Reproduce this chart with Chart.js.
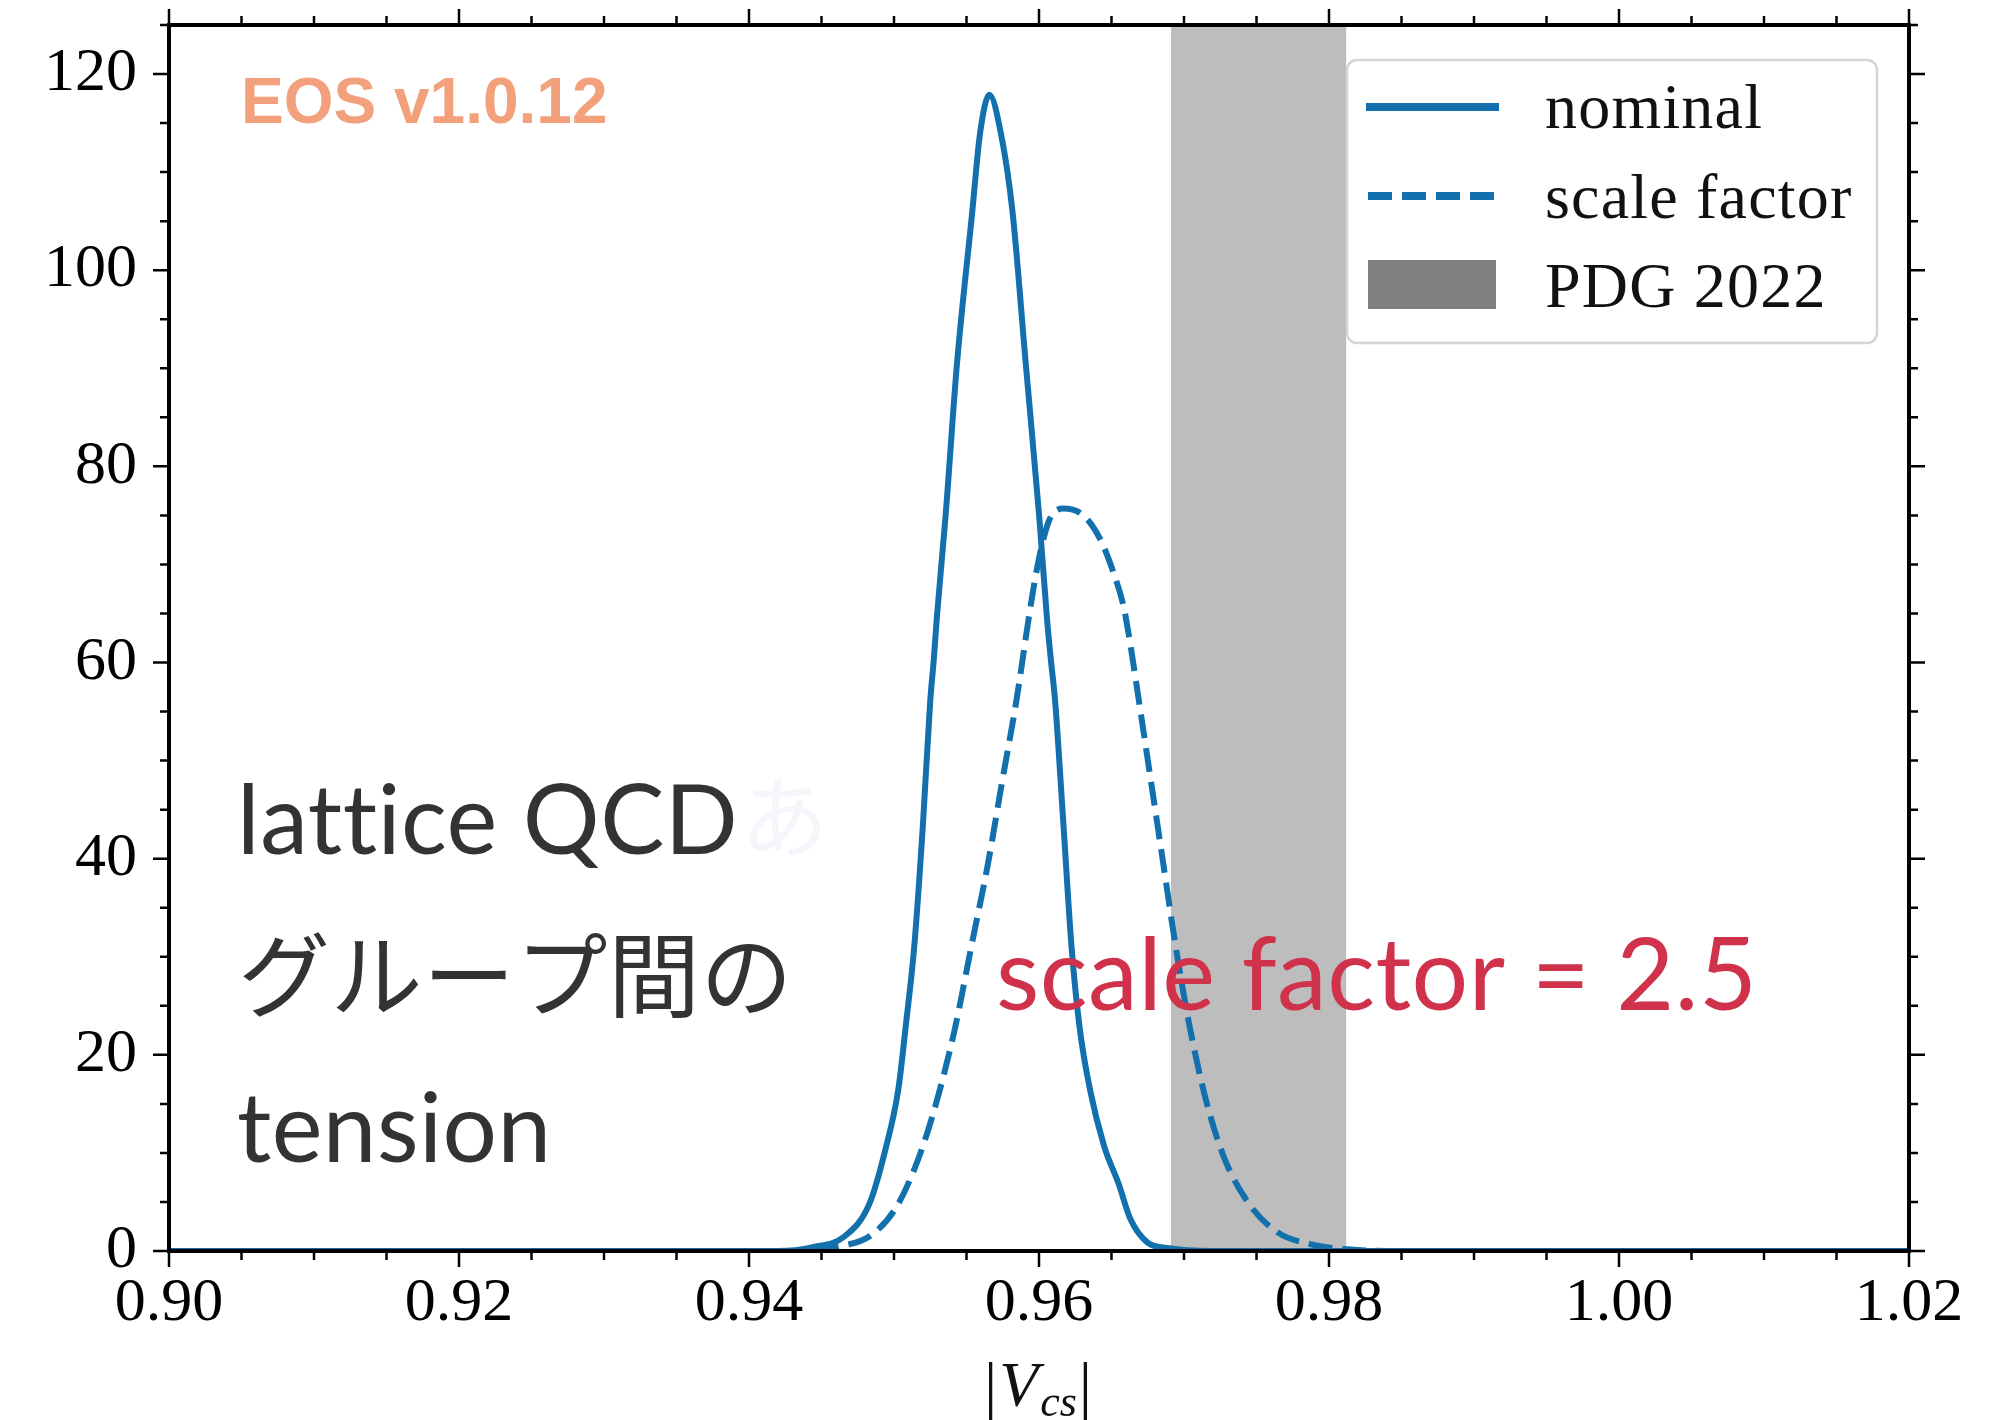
<!DOCTYPE html>
<html>
<head>
<meta charset="utf-8">
<script src="https://cdn.jsdelivr.net/npm/chart.js@4.4.1/dist/chart.umd.min.js"></script>
<style>
  html, body { margin: 0; padding: 0; background: #fff; }
  canvas { display: block; }
</style>
</head>
<body>
<canvas id="vcsChart" width="1992" height="1420"></canvas>
<script>
// |Vcs| posterior: nominal fit vs scale-factor fit, with PDG 2022 band
const xMin = 0.90, xMax = 1.02;
const yMin = 0, yMax = 125;

const xTickValues = [0.90, 0.92, 0.94, 0.96, 0.98, 1.00, 1.02];
const xTickLabels = ['0.90', '0.92', '0.94', '0.96', '0.98', '1.00', '1.02'];
const yTickValues = [0, 20, 40, 60, 80, 100, 120];
const yTickLabels = ['0', '20', '40', '60', '80', '100', '120'];

const nominalX = [0.9000, 0.9420, 0.9444, 0.9466, 0.9483, 0.9494, 0.9503, 0.9508, 0.9514, 0.9520,
                  0.9525, 0.95275, 0.95295, 0.95355, 0.95434, 0.95540, 0.95593, 0.95658, 0.95738, 0.95817,
                  0.95909, 0.96002, 0.96055, 0.96081, 0.96111, 0.96168, 0.96224, 0.96280, 0.96351, 0.96449,
                  0.96548, 0.96632, 0.96745, 0.96885, 0.9720, 1.0200];
const nominalY = [0, 0, 0.4, 1.5, 4.8, 10.3, 16.5, 22.8, 31.1, 43.6,
                  56.1, 60.4, 64.5, 74.8, 90.4, 106.0, 113.9, 117.9, 113.9, 106.0,
                  90.4, 74.8, 64.5, 60.4, 56.1, 43.6, 31.1, 22.8, 16.5, 10.7,
                  6.9, 3.2, 0.9, 0.3, 0, 0];

const scaleX = [0.9000, 0.9440, 0.94633, 0.94831, 0.95013, 0.95168, 0.95295, 0.95422, 0.95534, 0.95647,
                0.95745, 0.95844, 0.95929, 0.95973, 0.96019, 0.96076, 0.96168, 0.96306, 0.96421, 0.96513,
                0.96582, 0.96616, 0.96689, 0.96773, 0.96858, 0.96942, 0.97040, 0.97153, 0.97280, 0.97449,
                0.97646, 0.97870, 0.98096, 0.9850, 1.0200];
const scaleY = [0, 0, 0.5, 1.5, 4.4, 9.4, 15.3, 22.8, 31.1, 39.4,
                47.8, 56.1, 64.5, 68.5, 71.9, 74.7, 75.7, 75.0, 72.6, 69.2,
                65.8, 63.1, 56.1, 47.8, 39.4, 31.1, 22.8, 15.3, 9.4, 4.8,
                1.9, 0.7, 0.2, 0, 0];

const pdgRange = [0.9691, 0.9812];

const legendLabels = ['nominal', 'scale factor', 'PDG 2022'];
const noteLines = ['lattice QCD', 'グループ間の', 'tension'];
const noteScale = 'scale factor = 2.5';
const watermark = 'EOS v1.0.12';

const blue = '#1270ad';
const serif = '"Liberation Serif", "DejaVu Serif", serif';

function toPoints(xs, ys) {
    return xs.map((x, i) => ({ x: x, y: ys[i] }));
}

// outward ticks on all four sides + the box
const frameTicks = {
    id: 'frameTicks',
    afterDatasetsDraw(chart) {
        const { ctx, chartArea: a, scales: { x, y } } = chart;
        ctx.save();
        ctx.strokeStyle = '#000';
        ctx.lineWidth = 2.5;
        ctx.beginPath();
        for (let k = 0; k <= 24; k++) {
            const px = x.getPixelForValue(xMin + k * 0.005);
            const len = k % 4 === 0 ? 16 : 9;
            ctx.moveTo(px, a.bottom); ctx.lineTo(px, a.bottom + len);
            ctx.moveTo(px, a.top); ctx.lineTo(px, a.top - len);
        }
        for (let k = 0; k <= 25; k++) {
            const py = y.getPixelForValue(k * 5);
            const len = k % 4 === 0 ? 16 : 9;
            ctx.moveTo(a.left, py); ctx.lineTo(a.left - len, py);
            ctx.moveTo(a.right, py); ctx.lineTo(a.right + len, py);
        }
        ctx.stroke();
        ctx.lineWidth = 4;
        ctx.strokeRect(a.left, a.top, a.right - a.left, a.bottom - a.top);
        ctx.restore();
    }
};

const overlay = {
    id: 'overlay',
    afterDraw(chart) {
        const { ctx, chartArea: a } = chart;
        ctx.save();

        // legend box
        const bx = 1347, by = 60, bw = 530, bh = 283;
        ctx.beginPath();
        ctx.roundRect(bx, by, bw, bh, 10);
        ctx.fillStyle = 'rgba(255,255,255,0.92)';
        ctx.fill();
        ctx.strokeStyle = '#d4d4d4';
        ctx.lineWidth = 2.5;
        ctx.stroke();

        ctx.lineWidth = 8;
        ctx.strokeStyle = blue;
        ctx.beginPath();
        ctx.moveTo(1366, 107); ctx.lineTo(1499, 107);
        ctx.stroke();
        ctx.setLineDash([24, 10]);
        ctx.beginPath();
        ctx.moveTo(1368, 196); ctx.lineTo(1499, 196);
        ctx.stroke();
        ctx.setLineDash([]);
        ctx.fillStyle = '#808080';
        ctx.fillRect(1368, 260, 128, 49);

        ctx.fillStyle = '#111';
        ctx.font = '64px ' + serif;
        ctx.letterSpacing = '1.2px';
        ctx.textAlign = 'left';
        ctx.textBaseline = 'alphabetic';
        ctx.fillText(legendLabels[0], 1545, 128);
        ctx.fillText(legendLabels[1], 1545, 218);
        ctx.fillText(legendLabels[2], 1545, 307);
        ctx.letterSpacing = '0px';

        // watermark
        ctx.fillStyle = '#f3a07c';
        ctx.font = 'bold 64px "Liberation Sans", Arial, sans-serif';
        ctx.fillText(watermark, 241, 123);

        // notes
        ctx.letterSpacing = '0.5px';
        ctx.fillStyle = '#333333';
        ctx.font = '96px Lato, sans-serif';
        ctx.fillText(noteLines[0], 237, 854);
        const w0 = ctx.measureText(noteLines[0]).width;
        ctx.fillStyle = '#f6f5fb';
        ctx.font = '88px "Noto Sans CJK JP"';
        ctx.fillText('あ', 237 + w0 + 2, 850);
        ctx.fillStyle = '#333333';
        ctx.font = '92px "Noto Sans CJK JP"';
        ctx.fillText(noteLines[1], 238, 1010);
        ctx.font = '96px Lato, sans-serif';
        ctx.fillText(noteLines[2], 237, 1162);

        ctx.fillStyle = '#d0314b';
        ctx.font = '100px Lato, sans-serif';
        ctx.fillText(noteScale, 996, 1010);
        ctx.letterSpacing = '0px';

        // x axis title |V_cs|
        const parts = [
            { t: '|', f: '66px ' + serif, dy: 2 },
            { t: 'V', f: 'italic 64px ' + serif, dy: 0 },
            { t: 'cs', f: 'italic 44px ' + serif, dy: 10 },
            { t: '|', f: '66px ' + serif, dy: 2 }
        ];
        let total = 0;
        parts.forEach(p => { ctx.font = p.f; p.w = ctx.measureText(p.t).width; total += p.w + 2; });
        let cx = (a.left + a.right) / 2 - total / 2;
        ctx.fillStyle = '#111';
        parts.forEach(p => {
            ctx.font = p.f;
            ctx.fillText(p.t, cx, 1406 + p.dy);
            cx += p.w + 2;
        });

        ctx.restore();
    }
};

const ctx = document.getElementById('vcsChart').getContext('2d');
new Chart(ctx, {
    type: 'line',
    data: {
        datasets: [
            {
                label: legendLabels[0],
                data: toPoints(nominalX, nominalY),
                borderColor: blue,
                borderWidth: 6,
                pointRadius: 0,
                cubicInterpolationMode: 'monotone',
                fill: false,
                order: 1
            },
            {
                label: legendLabels[1],
                data: toPoints(scaleX, scaleY),
                borderColor: blue,
                borderWidth: 6,
                borderDash: [24, 10],
                pointRadius: 0,
                cubicInterpolationMode: 'monotone',
                fill: false,
                order: 2
            },
            {
                label: legendLabels[2],
                data: [{ x: pdgRange[0], y: yMax }, { x: pdgRange[1], y: yMax }],
                borderWidth: 0,
                borderColor: 'rgba(0,0,0,0)',
                backgroundColor: '#bdbdbd',
                pointRadius: 0,
                fill: 'origin',
                order: 3
            }
        ]
    },
    options: {
        responsive: false,
        animation: false,
        layout: { padding: { top: 25, right: 83, bottom: 0, left: 0 } },
        plugins: {
            legend: { display: false },
            tooltip: { enabled: false }
        },
        scales: {
            x: {
                type: 'linear', min: xMin, max: xMax,
                afterBuildTicks: s => { s.ticks = xTickValues.map(v => ({ value: v })); },
                afterFit: s => { s.height = 169; s.paddingLeft = 0; s.paddingRight = 0; },
                ticks: {
                    callback: (v, i) => xTickLabels[i],
                    font: { family: serif, size: 62 },
                    color: '#000',
                    padding: 16,
                    maxRotation: 0,
                    autoSkip: false
                },
                grid: { display: false, drawTicks: false },
                border: { display: false }
            },
            y: {
                min: yMin, max: yMax,
                afterBuildTicks: s => { s.ticks = yTickValues.map(v => ({ value: v })); },
                afterFit: s => { s.width = 169; s.paddingTop = 0; s.paddingBottom = 0; },
                ticks: {
                    callback: (v, i) => yTickLabels[i],
                    font: { family: serif, size: 62 },
                    color: '#000',
                    padding: 32,
                    autoSkip: false
                },
                grid: { display: false, drawTicks: false },
                border: { display: false }
            }
        }
    },
    plugins: [frameTicks, overlay]
});
</script>
</body>
</html>
